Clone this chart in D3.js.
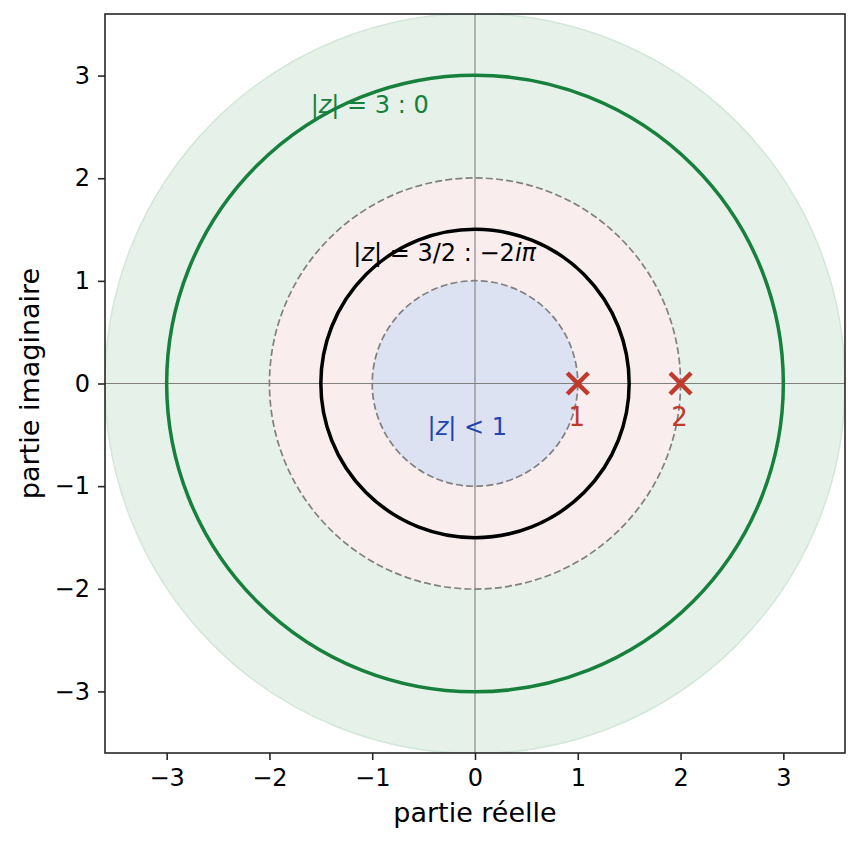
<!DOCTYPE html>
<html><head><meta charset="utf-8">
<script src="https://cdn.jsdelivr.net/npm/d3@7"></script>
<style>body{margin:0;background:#fff}svg{display:block}text{font-family:"DejaVu Sans",sans-serif}</style>
</head><body>
<script>
const xTicks = [-3,-2,-1,0,1,2,3];
const yTicks = [-3,-2,-1,0,1,2,3];
const domain = [-3.6, 3.6];
const regionRadii = [3.6];             // green region |z| outer
const annulus = [1, 2];                // pink annulus
const innerDisk = [1];                 // blue disk
const dashedRadii = [1, 2];
const solidCircles = [{r:3, color:"#17803d"}, {r:1.5, color:"#000"}];
const poles = [1, 2];
const poleLabels = ["1","2"];

const W=859,H=847, L=105, R=845, T=14, B=753;
const svg = d3.select("body").append("svg").attr("width",W).attr("height",H);
const x = d3.scaleLinear().domain(domain).range([L,R]);
const y = d3.scaleLinear().domain(domain).range([B,T]);
const ux = x(1)-x(0);

svg.append("clipPath").attr("id","clip").append("rect").attr("x",L).attr("y",T).attr("width",R-L).attr("height",B-T);
const g = svg.append("g").attr("clip-path","url(#clip)");

regionRadii.forEach(r=>g.append("circle").attr("cx",x(0)).attr("cy",y(0)).attr("r",r*ux)
  .attr("fill","#e6f2e9").attr("stroke","#d2e7d9").attr("stroke-width",1.5));
const arc = d3.arc().innerRadius(annulus[0]*ux).outerRadius(annulus[1]*ux).startAngle(0).endAngle(2*Math.PI);
g.append("path").attr("d",arc()).attr("transform",`translate(${x(0)},${y(0)})`).attr("fill","#f9eded");
innerDisk.forEach(r=>g.append("circle").attr("cx",x(0)).attr("cy",y(0)).attr("r",r*ux).attr("fill","#dce2f2"));
dashedRadii.forEach(r=>g.append("circle").attr("cx",x(0)).attr("cy",y(0)).attr("r",r*ux)
  .attr("fill","none").attr("stroke","#808080").attr("stroke-width",1.7).attr("stroke-dasharray","7,3.2"));
// axes lines through origin
g.append("line").attr("x1",L).attr("x2",R).attr("y1",y(0)).attr("y2",y(0)).attr("stroke","#808080").attr("stroke-width",1.1);
g.append("line").attr("y1",T).attr("y2",B).attr("x1",x(0)).attr("x2",x(0)).attr("stroke","#808080").attr("stroke-width",1.1);
solidCircles.forEach(c=>g.append("circle").attr("cx",x(0)).attr("cy",y(0)).attr("r",c.r*ux)
  .attr("fill","none").attr("stroke",c.color).attr("stroke-width",3.5));
// poles
const ms=10.5;
poles.forEach((p,i)=>{
  const cx=x(p), cy=y(0);
  g.append("path").attr("d",`M${cx-ms},${cy-ms}L${cx+ms},${cy+ms}M${cx-ms},${cy+ms}L${cx+ms},${cy-ms}`)
    .attr("stroke","#c0392b").attr("stroke-width",4.5);
  svg.append("text").attr("x",cx-1).attr("y",y(-0.33)).attr("text-anchor","middle").attr("dominant-baseline","central")
    .attr("font-size",26).attr("fill","#c0392b").text(poleLabels[i]);
});

function mathLabel(px,py,color,parts){
  const t=svg.append("text").attr("x",x(px)).attr("y",y(py)).attr("text-anchor","middle").attr("dominant-baseline","central")
    .attr("font-size",24).attr("fill",color);
  parts.forEach(([s,it])=>t.append("tspan").attr("font-style",it?"italic":"normal").text(s));
}
mathLabel(-1.025,2.715,"#17803d",[["|",0],["z",1],["| = 3 : 0",0]]);
mathLabel(-0.295,1.268,"#000",[["|",0],["z",1],["| = 3/2 : −2",0],["iπ",1]]);
mathLabel(-0.075,-0.42,"#2343b0",[["|",0],["z",1],["| < 1",0]]);

// frame
svg.append("rect").attr("x",L).attr("y",T).attr("width",R-L).attr("height",B-T).attr("fill","none").attr("stroke","#262626").attr("stroke-width",1.6);
const fmt = d=>d<0?"−"+(-d):d;
const xa = svg.append("g").attr("transform",`translate(0,${B})`).call(d3.axisBottom(x).tickValues(xTicks).tickSize(7).tickPadding(9).tickFormat(fmt));
const ya = svg.append("g").attr("transform",`translate(${L},0)`).call(d3.axisLeft(y).tickValues(yTicks).tickSize(7).tickPadding(8).tickFormat(fmt));
[xa,ya].forEach(a=>{a.select(".domain").remove();a.selectAll("line").attr("stroke","#262626").attr("stroke-width",1.6);
  a.selectAll("text").attr("font-size",24).attr("fill","#000").attr("font-family","DejaVu Sans");});
svg.append("text").attr("x",(L+R)/2).attr("y",822).attr("text-anchor","middle").attr("font-size",27).text("partie réelle");
svg.append("text").attr("transform",`translate(38.5,${(T+B)/2}) rotate(-90)`).attr("text-anchor","middle").attr("font-size",27).text("partie imaginaire");
</script>
</body></html>
